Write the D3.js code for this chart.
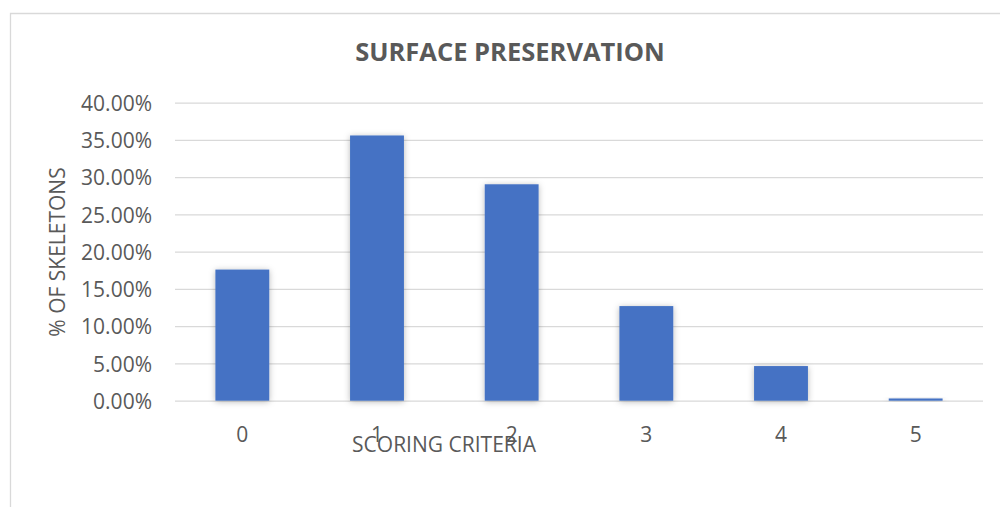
<!DOCTYPE html>
<html>
<head>
<meta charset="utf-8">
<script src="https://cdn.jsdelivr.net/npm/d3@7"></script>
<style>
  html, body { margin: 0; padding: 0; background: #fff; }
  svg { display: block; }
</style>
</head>
<body>
<svg id="chart" width="1000" height="507"></svg>
<script>
// Share of skeletons at each surface-preservation score
const categories = ["0", "1", "2", "3", "4", "5"];
const values = [0.176, 0.356, 0.2905, 0.127, 0.0465, 0.003];
const yTicks = [0, 0.05, 0.10, 0.15, 0.20, 0.25, 0.30, 0.35, 0.40];

const chartTitle = "SURFACE PRESERVATION";
const yTitle = "% OF SKELETONS";
const xTitle = "SCORING CRITERIA";

const W = 1000, H = 507;
const plot = { left: 175, right: 983, top: 102.7, bottom: 400.7 };
const textColor = "#595959";
const fontFamily = "'Open Sans', 'Liberation Sans', sans-serif";

const svg = d3.select("#chart");

// soft outer shadow used by the bars
const defs = svg.append("defs");
const shadow = defs.append("filter")
  .attr("id", "barShadow")
  .attr("x", "-30%").attr("y", "-30%")
  .attr("width", "160%").attr("height", "160%");
shadow.append("feDropShadow")
  .attr("dx", 0).attr("dy", 1)
  .attr("stdDeviation", 3)
  .attr("flood-color", "#000")
  .attr("flood-opacity", 0.28);

// chart area frame
svg.append("path")
  .attr("d", `M10.5,${H + 5} V13.5 H${W + 5}`)
  .attr("fill", "none")
  .attr("stroke", "#d9d9d9")
  .attr("stroke-width", 1.3);

const x = d3.scaleBand()
  .domain(categories)
  .range([plot.left, plot.right])
  .paddingInner(0.6)
  .paddingOuter(0.3);

const y = d3.scaleLinear()
  .domain([0, 0.40])
  .range([plot.bottom, plot.top]);

// horizontal gridlines + y tick labels
const yAxis = d3.axisLeft(y)
  .tickValues(yTicks)
  .tickSize(-(plot.right - plot.left))
  .tickPadding(23)
  .tickFormat(d3.format(".2%"));

const gy = svg.append("g")
  .attr("transform", `translate(${plot.left},0)`)
  .call(yAxis);
gy.select(".domain").remove();
gy.selectAll(".tick line")
  .attr("stroke", "#d9d9d9")
  .attr("stroke-width", 1.3);
gy.selectAll(".tick text")
  .attr("fill", textColor)
  .attr("font-family", fontFamily)
  .attr("font-size", 21)
  .attr("dy", "0.36em");

// bars
svg.append("g")
  .selectAll("rect")
  .data(values)
  .join("rect")
  .attr("x", (d, i) => x(categories[i]))
  .attr("y", d => y(d))
  .attr("width", x.bandwidth())
  .attr("height", d => y(0) - y(d))
  .attr("fill", "#4472c4")
  .attr("filter", "url(#barShadow)");

// x tick labels
const xAxis = d3.axisBottom(x).tickSize(0).tickPadding(26);
const gx = svg.append("g")
  .attr("transform", `translate(0,${plot.bottom})`)
  .call(xAxis);
gx.select(".domain").remove();
gx.selectAll(".tick text")
  .attr("fill", textColor)
  .attr("font-family", fontFamily)
  .attr("font-size", 21);

// titles
svg.append("text")
  .attr("x", 510)
  .attr("y", 61)
  .attr("text-anchor", "middle")
  .attr("fill", textColor)
  .attr("font-family", fontFamily)
  .attr("font-weight", "bold")
  .attr("font-size", 25.5)
  .text(chartTitle);

svg.append("text")
  .attr("x", 444)
  .attr("y", 452)
  .attr("text-anchor", "middle")
  .attr("fill", textColor)
  .attr("font-family", fontFamily)
  .attr("font-size", 21)
  .text(xTitle);

svg.append("text")
  .attr("transform", "translate(65,252) rotate(-90)")
  .attr("text-anchor", "middle")
  .attr("fill", textColor)
  .attr("font-family", fontFamily)
  .attr("font-size", 21)
  .text(yTitle);
</script>
</body>
</html>
